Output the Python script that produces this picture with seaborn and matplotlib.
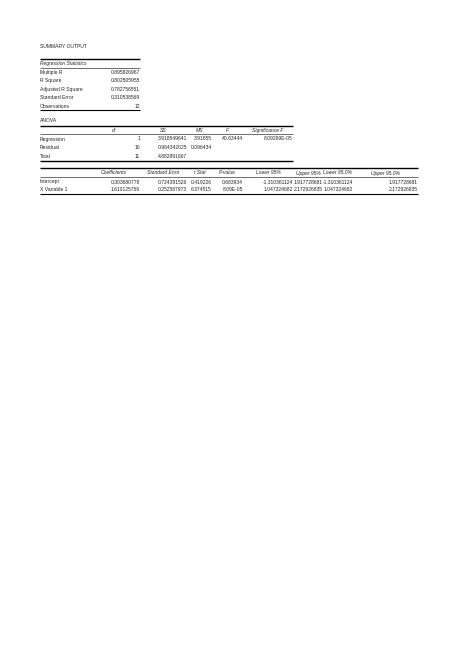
import matplotlib.pyplot as plt
import seaborn as sns

sns.set_style("white")
plt.rcParams['font.family'] = ['Liberation Sans', 'DejaVu Sans']

# Regression statistics block
stat_labels = ['Multiple R', 'R Square', 'Adjusted R Square', 'Standard Error', 'Observations']
stat_values = ['0.895826967', '0.802505955', '0.782756551', '0.310538569', '12']

# ANOVA block
anova_cols = ['df', 'SS', 'MS', 'F', 'Significance F']
anova_rows = ['Regression', 'Residual', 'Total']
anova_vals = [
    ['1', '3.918549641', '3.91855', '40.63444', '8.09269E-05'],
    ['10', '0.964342025', '0.096434', '', ''],
    ['11', '4.882891667', '', '', ''],
]

# Coefficients block
coef_cols = ['Coefficients', 'Standard Error', 't Stat', 'P-value',
             'Lower 95%', 'Upper 95%', 'Lower 95.0%', 'Upper 95.0%']
coef_rows = ['Intercept', 'X Variable 1']
coef_vals = [
    ['0.303680778', '0.724391526', '0.419226', '0.683934',
     '-1.310361124', '1.917728681', '-1.310361124', '1.917728681'],
    ['1.610125759', '0.252587973', '6.374515', '8.09E-05',
     '1.047324682', '2.172926835', '1.047324682', '2.172926835'],
]

fig = plt.figure(figsize=(4.74, 6.69), dpi=100)
ax = fig.add_axes([0, 0, 1, 1])
ax.set_xlim(0, 474)
ax.set_ylim(669, 0)
ax.axis('off')

fs = 3.6
x0 = 40
dy = 1.5  # baseline offset below row centre
# column right edges (pixel layout of the sheet)
col_right = [140, 187, 212, 243, 293, 323, 353, 418]
col_left = [88] + col_right[:-1]


def hline(y, x1, lw):
    ax.plot([x0, x1], [y, y], color='black', lw=lw, solid_capstyle='butt')


def txt(x, y, s, **kw):
    ax.text(x, y + dy, s, fontsize=fs, va='baseline', **kw)


txt(x0, 47, 'SUMMARY OUTPUT')

# Regression statistics
hline(59, 140, 1.0)
txt(x0, 64, 'Regression Statistics', style='italic')
hline(67.5, 140, 0.4)
for i, (lab, val) in enumerate(zip(stat_labels, stat_values)):
    y = 72.5 + i * 8.4
    txt(x0, y, lab)
    txt(140, y, val, ha='right')
hline(109.5, 140, 0.8)

# ANOVA
txt(x0, 121, 'ANOVA')
hline(126, 293, 1.0)
for j, c in enumerate(anova_cols):
    txt((col_left[j] + col_right[j]) / 2, 130.5, c, ha='center', style='italic')
hline(134, 293, 0.4)
for i, lab in enumerate(anova_rows):
    y = 139 + i * 8.8
    txt(x0, y, lab)
    for j, v in enumerate(anova_vals[i]):
        txt(col_right[j], y, v, ha='right')
hline(161, 293, 1.0)

# Coefficients
hline(168, 418, 1.0)
for j, c in enumerate(coef_cols):
    txt((col_left[j] + col_right[j]) / 2, 173, c, ha='center', style='italic')
hline(177, 418, 0.4)
for i, lab in enumerate(coef_rows):
    y = 182 + i * 7.6
    txt(x0, y, lab)
    for j, v in enumerate(coef_vals[i]):
        txt(col_right[j], y, v, ha='right')
hline(193.5, 418, 0.8)

fig.savefig('out.png', dpi=100, facecolor='white')
